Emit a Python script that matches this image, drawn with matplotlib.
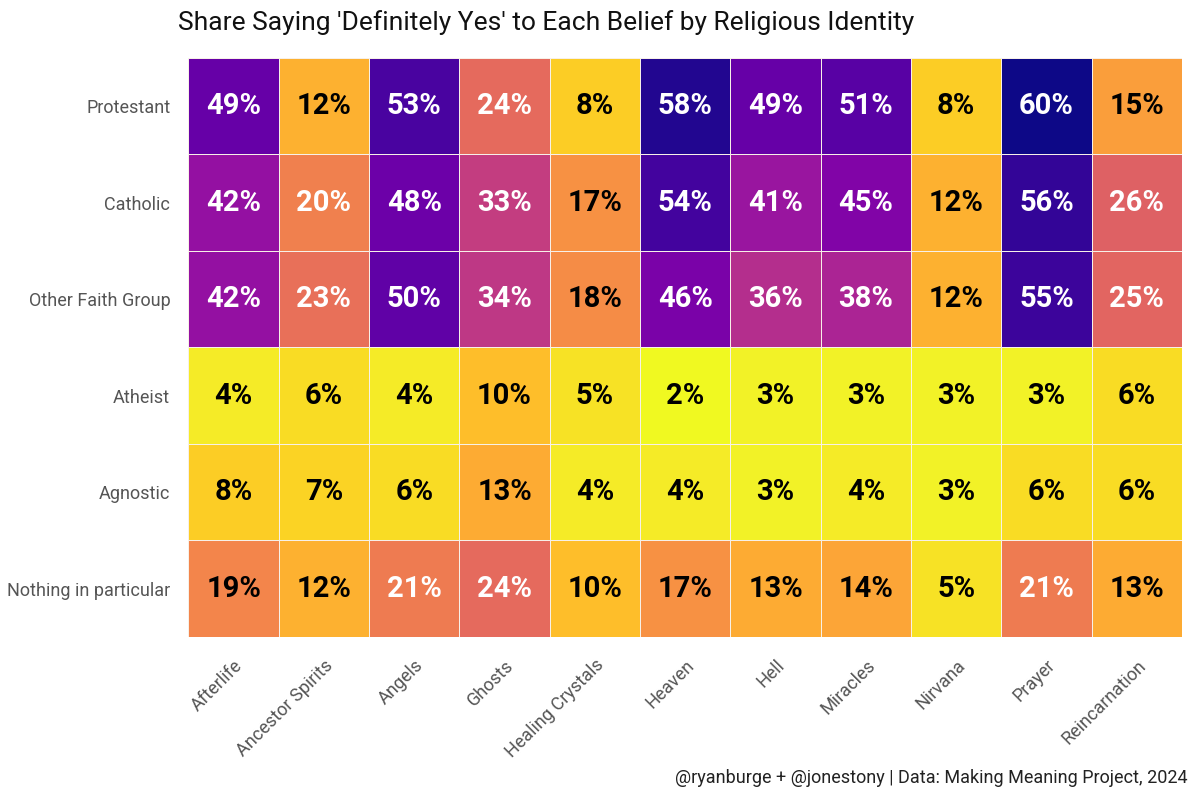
import matplotlib
matplotlib.use("Agg")
import matplotlib.pyplot as plt
import numpy as np

rows = ["Protestant", "Catholic", "Other Faith Group", "Atheist", "Agnostic", "Nothing in particular"]
beliefs = ["Afterlife", "Ancestor Spirits", "Angels", "Ghosts", "Healing Crystals", "Heaven",
           "Hell", "Miracles", "Nirvana", "Prayer", "Reincarnation"]
protestant = [49, 12, 53, 24, 8, 58, 49, 51, 8, 60, 15]
catholic = [42, 20, 48, 33, 17, 54, 41, 45, 12, 56, 26]
other_faith = [42, 23, 50, 34, 18, 46, 36, 38, 12, 55, 25]
atheist = [4, 6, 4, 10, 5, 2, 3, 3, 3, 3, 6]
agnostic = [8, 7, 6, 13, 4, 4, 3, 4, 3, 6, 6]
nothing = [19, 12, 21, 24, 10, 17, 13, 14, 5, 21, 13]

data = np.array([protestant, catholic, other_faith, atheist, agnostic, nothing])

plt.rcParams['font.family'] = ['Roboto', 'DejaVu Sans']

fig = plt.figure(figsize=(12, 8), dpi=100)
ax = fig.add_axes([0.157, 0.204, 0.828, 0.7235])

ax.pcolormesh(np.arange(len(beliefs) + 1), np.arange(len(rows) + 1), data,
              cmap="plasma_r", vmin=2, vmax=60, edgecolor="#f7f0e8", linewidth=0.7)
ax.set_xlim(0, len(beliefs))
ax.set_ylim(len(rows), 0)

for i in range(len(rows)):
    for j in range(len(beliefs)):
        v = data[i, j]
        ax.text(j + 0.5, i + 0.5, f"{v}%", ha="center", va="center",
                fontsize=21, fontweight="bold", color="white" if v >= 20 else "black")

ax.set_xticks(np.arange(len(beliefs)) + 0.5)
ax.set_xticklabels(beliefs, rotation=45, ha="right", rotation_mode="anchor",
                   fontsize=13, color="#555555")
ax.set_yticks(np.arange(len(rows)) + 0.5)
ax.set_yticklabels(rows, fontsize=13, color="#555555")
ax.tick_params(axis="y", length=0, pad=13)
ax.tick_params(axis="x", length=0, pad=14)
for s in ax.spines.values():
    s.set_visible(False)

fig.text(0.148, 0.972, "Share Saying 'Definitely Yes' to Each Belief by Religious Identity",
         ha="left", va="center", fontsize=19, color="#111111")
fig.text(0.99, 0.028, "@ryanburge + @jonestony | Data: Making Meaning Project, 2024",
         ha="right", va="center", fontsize=13, color="#222222")

fig.savefig("out.png", dpi=100)
